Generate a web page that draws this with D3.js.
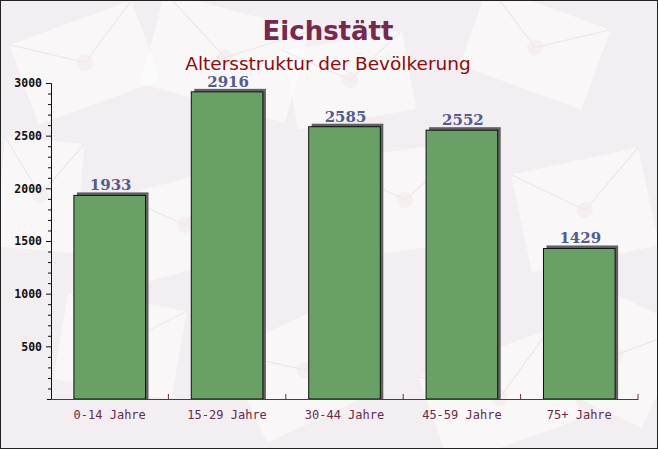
<!DOCTYPE html>
<meta charset="utf-8">
<head>
  <script src="https://d3js.org/d3.v7.min.js"></script>
</head>
<style>
  body { margin: 0; }
  svg { display: block; }
</style>
<body>
<script>
  // data
  var categories = ["0-14 Jahre", "15-29 Jahre", "30-44 Jahre", "45-59 Jahre", "75+ Jahre"];
  var values = [1933, 2916, 2585, 2552, 1429];
  var yTicks = [500, 1000, 1500, 2000, 2500, 3000];
  var title = "Eichstätt";
  var subtitle = "Altersstruktur der Bevölkerung";

  var W = 658, H = 449;
  var svg = d3.select("body").append("svg")
    .attr("width", W)
    .attr("height", H);

  // background
  svg.append("rect").attr("width", W).attr("height", H).attr("fill", "#f2eef1");

  // faint envelope shapes in the background
  var envelopes = [
    [20, 20, 130, 85, -20], [150, 10, 150, 95, 15], [330, 150, 150, 100, -8],
    [470, 5, 130, 85, 20], [520, 160, 130, 100, -12], [430, 350, 140, 95, -20],
    [60, 300, 120, 90, 10], [240, 320, 130, 100, -25], [290, 40, 120, 80, -10],
    [0, 140, 80, 110, 5], [560, 300, 110, 110, 25], [130, 180, 110, 90, -15]
  ];
  var env = svg.append("g").attr("class", "bg");
  envelopes.forEach(function (e) {
    var g = env.append("g")
      .attr("transform", "translate(" + (e[0] + e[2] / 2) + "," + (e[1] + e[3] / 2) + ") rotate(" + e[4] + ")");
    g.append("rect")
      .attr("x", -e[2] / 2).attr("y", -e[3] / 2)
      .attr("width", e[2]).attr("height", e[3])
      .attr("fill", "#ffffff").attr("opacity", 0.5);
    g.append("path")
      .attr("d", "M" + (-e[2] / 2) + "," + (-e[3] / 2) + " L0,0 L" + (e[2] / 2) + "," + (-e[3] / 2))
      .attr("fill", "none").attr("stroke", "#ece4e6").attr("stroke-width", 1);
    g.append("circle").attr("r", 8).attr("fill", "#f3e8e8").attr("opacity", 0.5);
  });

  var x0 = 51, x1 = 638, yTop = 83, yBot = 399;

  var x = d3.scaleBand()
    .domain(categories)
    .range([x0, x1])
    .paddingInner(0.39)
    .paddingOuter(0.195);

  var y = d3.scaleLinear()
    .domain([0, 3000])
    .range([yBot, yTop]);

  // bars with shadow
  var bars = svg.append("g").selectAll("g")
    .data(values)
    .enter().append("g");

  bars.append("rect")
    .attr("x", function (d, i) { return x(categories[i]) + 3; })
    .attr("y", function (d) { return y(d) - 3; })
    .attr("width", x.bandwidth())
    .attr("height", function (d) { return yBot - y(d) + 3; })
    .attr("fill", "#616161");

  bars.append("rect")
    .attr("x", function (d, i) { return x(categories[i]); })
    .attr("y", function (d) { return y(d); })
    .attr("width", x.bandwidth())
    .attr("height", function (d) { return yBot - y(d); })
    .attr("fill", "#68a065")
    .attr("stroke", "#111")
    .attr("stroke-width", 1);

  bars.append("text")
    .attr("x", function (d, i) { return x(categories[i]) + x.bandwidth() / 2 + 1; })
    .attr("y", function (d) { return y(d) - 5; })
    .attr("text-anchor", "middle")
    .attr("font-family", "'DejaVu Serif', serif")
    .attr("font-weight", "bold")
    .attr("font-size", 15)
    .attr("fill", "#535c8c")
    .text(function (d) { return d; });

  // y axis
  var yAxis = d3.axisLeft(y)
    .tickValues(d3.range(100, 3001, 100))
    .tickSize(4)
    .tickFormat(function (d) { return yTicks.indexOf(d) >= 0 ? d : ""; });

  var ga = svg.append("g")
    .attr("transform", "translate(" + x0 + ",0)")
    .call(yAxis);
  ga.select(".domain").attr("stroke", "#111");
  ga.selectAll(".tick line")
    .attr("stroke", "#111")
    .attr("x2", function (d) { return yTicks.indexOf(d) >= 0 ? -5 : -3; });
  ga.selectAll(".tick text")
    .attr("x", -9)
    .attr("font-family", "'DejaVu Sans Mono', monospace")
    .attr("font-weight", "bold")
    .attr("font-size", 11.5)
    .attr("fill", "#111");

  // x axis
  var xAxis = d3.axisBottom(x).tickSize(0).tickPadding(11);
  var gx = svg.append("g")
    .attr("transform", "translate(0," + yBot + ")")
    .call(xAxis);
  gx.select(".domain").attr("stroke", "#6b2a4a");
  gx.selectAll(".tick text")
    .attr("font-family", "'DejaVu Sans Mono', monospace")
    .attr("font-size", 12)
    .attr("fill", "#6b2a4a");

  // separator ticks between categories
  var step = x.step();
  var seps = d3.range(1, categories.length + 1).map(function (i) {
    return x(categories[i - 1]) + x.bandwidth() + (step - x.bandwidth()) / 2;
  });
  svg.append("g").selectAll("line")
    .data(seps)
    .enter().append("line")
    .attr("x1", function (d) { return d; })
    .attr("x2", function (d) { return d; })
    .attr("y1", yBot)
    .attr("y2", yBot - 5)
    .attr("stroke", "#6b2a4a");

  // titles
  svg.append("text")
    .attr("x", 328).attr("y", 40)
    .attr("text-anchor", "middle")
    .attr("font-family", "'DejaVu Sans', Verdana, sans-serif")
    .attr("font-weight", "bold")
    .attr("font-size", 26)
    .attr("fill", "#76294f")
    .text(title);

  svg.append("text")
    .attr("x", 328).attr("y", 70)
    .attr("text-anchor", "middle")
    .attr("font-family", "'DejaVu Sans', Verdana, sans-serif")
    .attr("font-size", 18.5)
    .attr("fill", "#8f0a0a")
    .text(subtitle);

  // border
  svg.append("rect")
    .attr("x", 0.5).attr("y", 0.5)
    .attr("width", W - 1).attr("height", H - 1)
    .attr("fill", "none").attr("stroke", "#222");
</script>
</body>
